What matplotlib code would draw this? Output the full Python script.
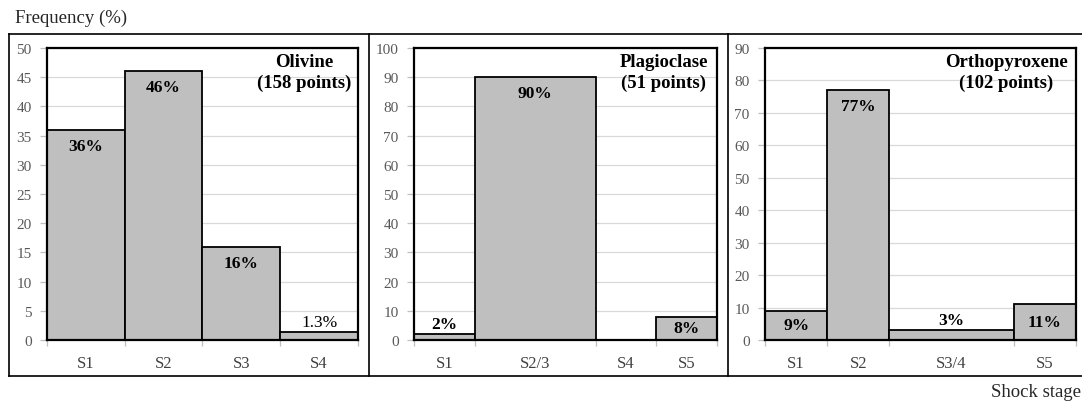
import matplotlib
matplotlib.use("Agg")
from matplotlib import pyplot as plt
from matplotlib.lines import Line2D
import numpy as np

plt.rcParams['font.family'] = ['Liberation Serif', 'DejaVu Serif']

# Shock stage distributions for the three minerals.
ol_stages = ['S1', 'S2', 'S3', 'S4']
ol_freq = [36, 46, 16, 1.3]
ol_width = [1, 1, 1, 1]
ol_labels = ['36%', '46%', '16%', '1.3%']
ol_place = ['in', 'in', 'in', 'out']

pl_stages = ['S1', 'S2/3', 'S4', 'S5']
pl_freq = [2, 90, 0, 8]
pl_width = [1, 2, 1, 1]
pl_labels = ['2%', '90%', '', '8%']
pl_place = ['out', 'in', 'out', 'in']

opx_stages = ['S1', 'S2', 'S3/4', 'S5']
opx_freq = [9, 77, 3, 11]
opx_width = [1, 1, 2, 1]
opx_labels = ['9%', '77%', '3%', '11%']
opx_place = ['in', 'in', 'out', 'in']

fig = plt.figure(figsize=(10.82, 4.02), dpi=100)

W, H = 1082, 402


def panel(left_px, right_px, stages, freq, width, labels, place, ymax, ystep,
          title, title_x):
    ax = fig.add_axes([left_px / W, 1 - 341 / H, (right_px - left_px) / W, 292 / H])
    edges = np.concatenate([[0], np.cumsum(width)])
    centers = edges[:-1] + np.array(width) / 2
    ax.bar(edges[:-1], freq, width=width, align='edge', color='#BFBFBF',
           edgecolor='black', linewidth=1.3, zorder=3)
    ax.set_xlim(0, edges[-1])
    ax.set_ylim(0, ymax)
    ax.set_yticks(np.arange(0, ymax + 0.1, ystep))
    ax.yaxis.grid(True, color='#D9D9D9', linewidth=0.9, zorder=0)
    ax.set_axisbelow(True)
    ax.set_xticks(centers)
    ax.set_xticklabels(stages)
    ax.set_xticks(edges, minor=True)
    ax.tick_params(axis='x', which='major', length=0, pad=11, labelsize=12, colors='#404040')
    ax.tick_params(axis='x', which='minor', length=4, color='#BFBFBF', width=0.9)
    ax.tick_params(axis='y', length=5, color='#BFBFBF', width=0.9, pad=6,
                   labelsize=11, labelcolor='#595959')
    for s in ax.spines.values():
        s.set_color('black')
        s.set_linewidth(1.6)
        s.set_zorder(5)

    for c, v, lab, p in zip(centers, freq, labels, place):
        if not lab:
            continue
        weight = 'normal' if lab == '1.3%' else 'bold'
        if p == 'out':
            ax.annotate(lab, (c, v), xytext=(0, 7.5), textcoords='offset points',
                        ha='center', va='center', fontsize=12.5, fontweight=weight)
        elif v < 0.15 * ymax:
            ax.text(c, v / 2, lab, ha='center', va='center', fontsize=12.5,
                    fontweight=weight, zorder=6)
        else:
            ax.annotate(lab, (c, v), xytext=(0, -11.5), textcoords='offset points',
                        ha='center', va='center', fontsize=12.5, fontweight=weight,
                        zorder=6)

    ax.text(title_x, 0.918, title, transform=ax.transAxes,
            ha='center', va='center', fontsize=13.5, fontweight='bold',
            linespacing=1.25, zorder=6)
    return ax


panel(47, 358, ol_stages, ol_freq, ol_width, ol_labels, ol_place, 50, 5,
      'Olivine\n(158 points)', 0.826)
panel(414, 717, pl_stages, pl_freq, pl_width, pl_labels, pl_place, 100, 10,
      'Plagioclase\n(51 points)', 0.825)
panel(765, 1076, opx_stages, opx_freq, opx_width, opx_labels, opx_place, 90, 10,
      'Orthopyroxene\n(102 points)', 0.775)

# Outer frames around each panel.
top, bot = 1 - 35 / H, 1 - 377 / H
for x in [9, 369, 728]:
    fig.add_artist(Line2D([x / W, x / W], [bot, top], color='black', lw=1.2))
fig.add_artist(Line2D([9 / W, 1], [top, top], color='black', lw=1.2))
fig.add_artist(Line2D([9 / W, 1], [bot, bot], color='black', lw=1.2))

fig.text(15 / W, 1 - 18 / H, 'Frequency (%)', ha='left', va='center', fontsize=13.5,
         color='#262626')
fig.text(1081 / W, 1 - 393 / H, 'Shock stage', ha='right', va='center', fontsize=13.5,
         color='#262626')

fig.savefig('out.png', dpi=100)
